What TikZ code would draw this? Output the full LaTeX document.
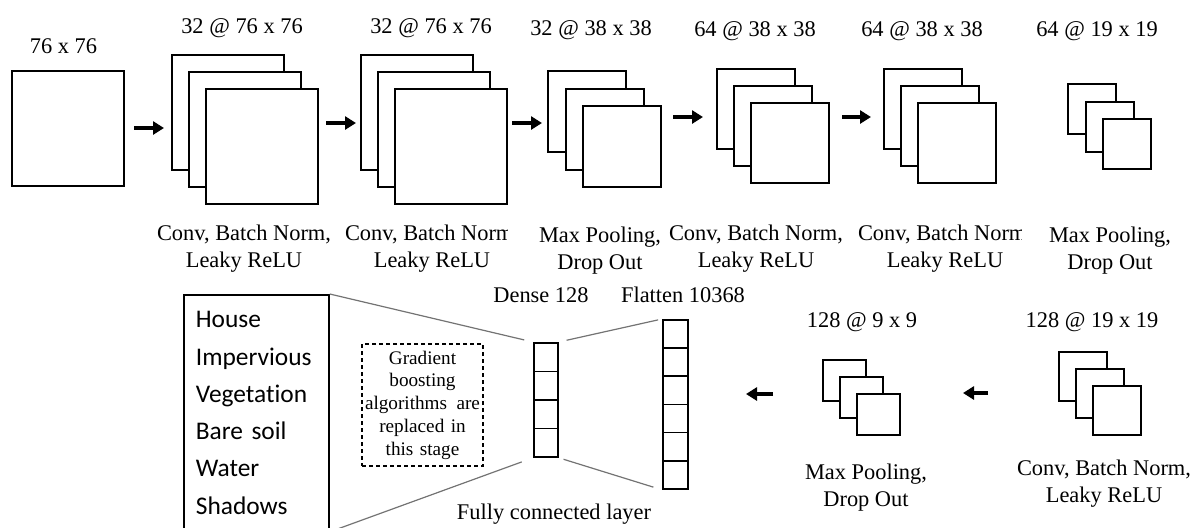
\documentclass[tikz,border=0pt]{standalone}
\usepackage{fontspec}
\setmainfont{Liberation Serif}
\newfontfamily\calib[Ligatures=NoCommon]{Carlito}
\usepackage{tikz}
\usetikzlibrary{positioning,arrows.meta,calc}
\tikzset{
fmap/.style={
draw,
fill=white,
line width=1pt,
inner sep=0pt,
anchor=north west
},
cell/.style={
draw,
line width=0.9pt,
inner sep=0pt,
anchor=north west
},
lbl/.style={
inner sep=0pt,
align=center,
font=\fontsize{11.2}{13.5}\selectfont
},
flow/.style={
-{Triangle[length=5.5pt,width=6.5pt]},
line width=1.7pt
},
fcline/.style={
draw=black!55,
line width=0.6pt
},
classbox/.style={
draw,
line width=0.9pt,
anchor=north west,
minimum height=118pt,
text width=60.5pt,
inner xsep=6pt,
align=left,
font=\calib\fontsize{12.7}{18.65}\selectfont
},
note/.style={
draw,
dashed,
dash pattern=on 2pt off 1.5pt,
line width=0.6pt,
minimum width=60.5pt,
minimum height=60pt,
text width=57.5pt,
inner xsep=1.5pt,
align=center,
font=\fontsize{9.6}{11.4}\selectfont
}
}
\newcommand{\fmapstack}[6]{%
\foreach \k in {0,1,2}
\node[fmap,minimum width=#4*0.5pt,minimum height=#5*0.5pt] (#1\k) at ({#2+#6*\k},{#3+#6*\k}) {};
}

\begin{document}
\begin{tikzpicture}[x=0.5pt,y=-0.5pt]
\clip (0,0) rectangle (1195,527);

% top row
\node[fmap,minimum width=56pt,minimum height=57.5pt] (in) at (11,70) {};
\fmapstack{c1}{171}{54}{112}{115}{17}
\fmapstack{c2}{360}{54}{112}{115}{17}
\fmapstack{p1}{547}{70}{78}{81}{17.5}
\fmapstack{c3}{716}{68}{78}{80}{17}
\fmapstack{c4}{883}{68}{78}{80}{17}
\fmapstack{p2}{1067}{83}{48}{50}{17.5}

\node[lbl,anchor=base](tin) at (63.5,53){76 x 76};
\node[lbl,anchor=base](tc1) at (242,33){32 @ 76 x 76};
\node[lbl,anchor=base](tc2) at (431,33){32 @ 76 x 76};
\node[lbl,anchor=base](tp1) at (591,35){32 @ 38 x 38};
\node[lbl,anchor=base](tc3) at (755,36){64 @ 38 x 38};
\node[lbl,anchor=base](tc4) at (922,36){64 @ 38 x 38};
\node[lbl,anchor=base](tp2) at (1097,36){64 @ 19 x 19};

\node[lbl](bc1) at (244,249){Conv, Batch Norm,\\Leaky ReLU};
\begin{scope}
\clip (330,215) rectangle (507,285);
\node[lbl](bc2) at (432,249){Conv, Batch Norm,\\Leaky ReLU};
\end{scope}
\node[lbl](bp1) at (600,251){Max Pooling,\\Drop Out};
\node[lbl](bc3) at (756,249){Conv, Batch Norm,\\Leaky ReLU};
\begin{scope}
\clip (850,215) rectangle (1021,285);
\node[lbl](bc4) at (945,249){Conv, Batch Norm,\\Leaky ReLU};
\end{scope}
\node[lbl](bp2) at (1110,251){Max Pooling,\\Drop Out};

\coordinate (a1s) at (134,128); \coordinate (a1e) at (164,128);
\coordinate (a2s) at (326,123); \coordinate (a2e) at (356,123);
\coordinate (a3s) at (512,123); \coordinate (a3e) at (542,123);
\coordinate (a4s) at (673,117); \coordinate (a4e) at (703,117);
\coordinate (a5s) at (842,117); \coordinate (a5e) at (871,117);
\draw[flow](a1s)--(a1e);
\draw[flow](a2s)--(a2e);
\draw[flow](a3s)--(a3e);
\draw[flow](a4s)--(a4e);
\draw[flow](a5s)--(a5e);

% bottom row
\fmapstack{c5}{1058}{351}{48}{49}{17}
\fmapstack{p3}{822}{359}{43}{41}{17}
\node[lbl,anchor=base](tc5) at (1092,327){128 @ 19 x 19};
\node[lbl,anchor=base](tp3) at (862,327){128 @ 9 x 9};
\node[lbl](bc5) at (1104,484){Conv, Batch Norm,\\Leaky ReLU};
\node[lbl](bp3) at (866,488){Max Pooling,\\Drop Out};

\coordinate (a6s) at (988,393); \coordinate (a6e) at (963,393);
\coordinate (a7s) at (773,394); \coordinate (a7e) at (746,394);
\draw[flow](a6s)--(a6e);
\draw[flow](a7s)--(a7e);

\foreach \k in {0,...,5}
\node[cell,minimum width=12.5pt,minimum height=14.08pt] (f\k) at (662,{319+28.17*\k}) {};
\foreach \k in {0,...,3}
\node[cell,minimum width=12pt,minimum height=14.25pt] (d\k) at (533,{342+28.5*\k}) {};
\node[lbl,anchor=base](tflat) at (683,302){Flatten 10368};
\node[lbl,anchor=base](tdense) at (541,302){Dense 128};
\node[lbl,anchor=base](tfc) at (554,519){Fully connected layer};

\node[classbox](classes) at (183,294){House\\Impervious\\Vegetation\\Bare soil\\Water\\Shadows};
\node[note](gb) at (422.5,405){Gradient\\boosting\\algorithms\hfill are\\replaced in\\this stage};

\draw[fcline,shorten >=4.5pt](classes.north east)--(d0.north west);
\draw[fcline,shorten >=6pt](classes.south east)--(d3.south west);
\draw[fcline,shorten <=4pt,shorten >=2pt](d0.north east)--(f0.north west);
\draw[fcline,shorten <=2.5pt,shorten >=4.5pt](d3.south east)--(f5.south west);
\end{tikzpicture}
\end{document}
